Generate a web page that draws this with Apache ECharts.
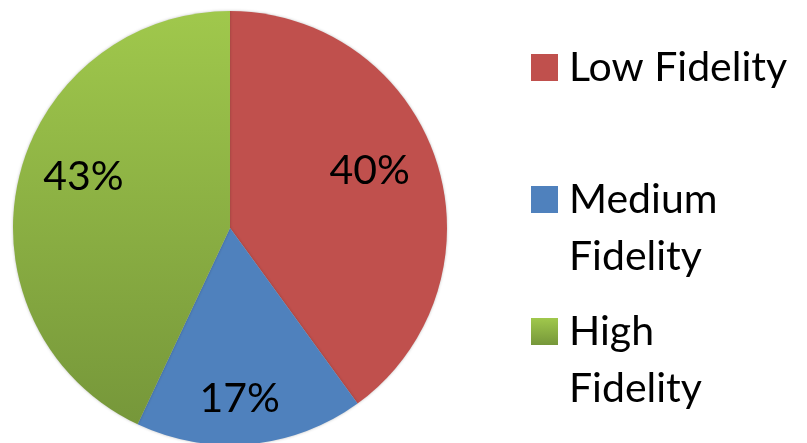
<!DOCTYPE html>
<html>
<head>
<meta charset="utf-8">
<script src="https://cdn.jsdelivr.net/npm/echarts@6/dist/echarts.min.js"></script>
<style>
html,body{margin:0;padding:0;background:#fff;}
#c{width:807px;height:443px;}
</style>
</head>
<body>
<div id="c"></div>
<script>
const categories = ['Low Fidelity', 'Medium Fidelity', 'High Fidelity'];
const values = [40, 17, 43];

const FONT = 'Lato';
const CX = 230, CY = 228, R = 217;
const LABEL_FRAC = 0.72;
const LABEL_NUDGE = [[-9, -9], [-5, 15], [6, -17]];

const colors = [
  '#C0504D',
  '#4F81BD',
  { type: 'linear', x: 0, y: 0, x2: 0, y2: 1,
    colorStops: [{ offset: 0, color: '#A0C84C' }, { offset: 1, color: '#76973A' }] }
];

const total = values.reduce((a, b) => a + b, 0);
const midAngles = [];
let acc = 0;
values.forEach(v => { midAngles.push((acc + v / 2) / total * 2 * Math.PI); acc += v; });

const chart = echarts.init(document.getElementById('c'), null, { renderer: 'canvas' });

// two-line legend entries: an empty leading line keeps the first text line level with the square
function legendFor(name, top, twoLine) {
  return {
    data: [name],
    orient: 'vertical',
    left: 531,
    top: top,
    padding: 0,
    itemWidth: 27,
    itemHeight: 27,
    icon: 'rect',
    selectedMode: false,
    formatter: twoLine ? (n => '\n' + n.replace(' ', '\n')) : (n => n),
    textStyle: {
      fontFamily: FONT,
      fontSize: 41,
      color: '#000',
      lineHeight: 57,
      padding: [0, 0, 0, 6]
    }
  };
}

chart.setOption({
  animation: false,
  legend: [
    legendFor(categories[0], 39, false),
    legendFor(categories[1], 114, true),
    legendFor(categories[2], 246, true)
  ],
  series: [{
    type: 'pie',
    center: [CX, CY],
    radius: R,
    startAngle: 90,
    clockwise: true,
    percentPrecision: 0,
    silent: true,
    data: categories.map((c, i) => ({
      name: c,
      value: values[i],
      itemStyle: { color: colors[i] }
    })),
    itemStyle: { shadowBlur: 3, shadowColor: 'rgba(0,0,0,0.25)' },
    label: {
      show: true,
      position: 'inside',
      formatter: '{d}%',
      fontFamily: FONT,
      fontSize: 41,
      color: '#000',
      align: 'center',
      verticalAlign: 'middle'
    },
    labelLine: { show: false },
    labelLayout: function (p) {
      const i = p.dataIndex;
      const a = midAngles[i];
      return {
        x: CX + LABEL_FRAC * R * Math.sin(a) + LABEL_NUDGE[i][0],
        y: CY - LABEL_FRAC * R * Math.cos(a) + LABEL_NUDGE[i][1],
        align: 'center',
        verticalAlign: 'middle'
      };
    }
  }]
});
</script>
</body>
</html>
